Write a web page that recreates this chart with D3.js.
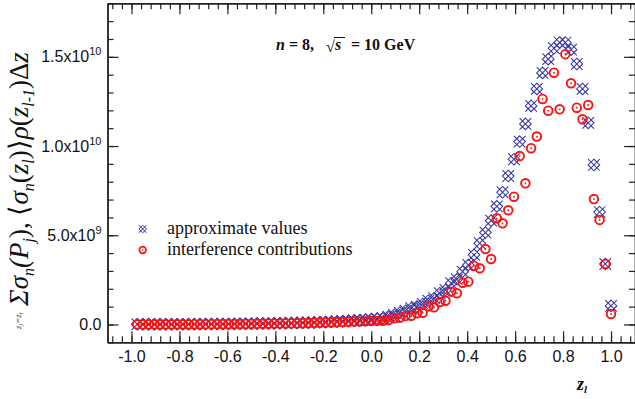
<!DOCTYPE html>
<html><head><meta charset="utf-8">
<script src="https://cdn.jsdelivr.net/npm/d3@7/dist/d3.min.js"></script>
<style>body{margin:0;background:#fff}svg{display:block}</style>
</head><body>
<svg id="chart" width="635" height="399"></svg>
<script>
// z_l grid (l = 1..84)
const zValues = [-0.9762,-0.9524,-0.9286,-0.9048,-0.8810,-0.8571,-0.8333,-0.8095,-0.7857,-0.7619,
 -0.7381,-0.7143,-0.6905,-0.6667,-0.6429,-0.6190,-0.5952,-0.5714,-0.5476,-0.5238,
 -0.5,-0.4762,-0.4524,-0.4286,-0.4048,-0.3810,-0.3571,-0.3333,-0.3095,-0.2857,
 -0.2619,-0.2381,-0.2143,-0.1905,-0.1667,-0.1429,-0.1190,-0.0952,-0.0714,-0.0476,
 -0.0238,0,0.0238,0.0476,0.0714,0.0952,0.1190,0.1429,0.1667,0.1905,
 0.2143,0.2381,0.2619,0.2857,0.3095,0.3333,0.3571,0.3810,0.4048,0.4286,
 0.4524,0.4762,0.5,0.5238,0.5476,0.5714,0.5952,0.6190,0.6429,0.6667,
 0.6905,0.7143,0.7381,0.7619,0.7857,0.8095,0.8333,0.8571,0.8810,0.9048,
 0.9286,0.9524,0.9762,1.0];
// approximate values (units of 1e9)
const approxValues = [0.01,0.01,0.01,0.01,0.01,0.012,0.013,0.014,0.015,0.016,
 0.018,0.02,0.022,0.024,0.026,0.028,0.03,0.033,0.036,0.04,
 0.044,0.048,0.052,0.057,0.062,0.068,0.074,0.08,0.088,0.096,
 0.105,0.115,0.126,0.138,0.15,0.165,0.18,0.2,0.22,0.24,
 0.265,0.29,0.32,0.35,0.44,0.53,0.66,0.77,0.91,1.0,
 1.15,1.33,1.47,1.75,1.93,2.31,2.53,2.96,3.33,3.9,
 4.55,5.15,5.82,6.62,7.41,8.32,9.26,10.25,11.24,12.25,
 13.2,14.1,14.87,15.48,15.8,15.8,15.4,14.6,13.2,11.3,
 8.94,6.3,3.39,1.04];
// interference contributions (units of 1e9)
const interfValues = [0.008,0.008,0.008,0.008,0.008,0.009,0.01,0.011,0.012,0.013,
 0.014,0.015,0.017,0.018,0.02,0.021,0.023,0.025,0.027,0.03,
 0.033,0.036,0.039,0.043,0.047,0.051,0.056,0.06,0.066,0.072,
 0.079,0.086,0.095,0.104,0.113,0.124,0.135,0.15,0.16,0.17,
 0.18,0.19,0.2,0.21,0.25,0.35,0.38,0.48,0.49,0.63,
 0.66,1.0,0.96,1.26,1.33,1.84,1.75,2.34,2.4,3.28,
 3.15,4.23,3.67,5.95,5.67,6.4,7.16,9.44,7.91,9.88,
 10.53,12.64,11.98,14.11,12.06,15.15,13.52,12.15,11.5,12.3,
 7.03,5.86,3.39,0.59];
const xTickValues = [-1.0,-0.8,-0.6,-0.4,-0.2,0.0,0.2,0.4,0.6,0.8,1.0];
const xTickLabels = ["-1.0","-0.8","-0.6","-0.4","-0.2","0.0","0.2","0.4","0.6","0.8","1.0"];
const yTickValues = [0,5,10,15];
const yTickMantissa = ["0.0","5.0x10","1.0x10","1.5x10"];
const yTickExponent = ["","9","10","10"];
const seriesNames = ["approximate values","interference contributions"];

const svg = d3.select("#chart");
svg.append("rect").attr("width",635).attr("height",399).attr("fill","#fff");

const L=107.5, R=635, T=3.3, B=342.3;
const x = d3.scaleLinear().domain([-1.1,1.1]).range([L,R]);
const y = d3.scaleLinear().domain([-1,18]).range([B,T]);

const axisColor = "#222";
const minorX = d3.range(-1.08,1.1,0.04).map(v=>+v.toFixed(2));
const minorY = d3.range(-1,18.01,1);

function styleAxis(g){
  g.selectAll("path.domain").attr("stroke",axisColor).attr("stroke-width",1.4);
  g.selectAll("line").attr("stroke",axisColor).attr("stroke-width",1.2);
}
// bottom
const gb = svg.append("g").attr("transform",`translate(0,${B})`)
  .call(d3.axisBottom(x).tickValues(xTickValues).tickSize(-11).tickSizeOuter(0).tickPadding(8)
    .tickFormat((d,i)=>xTickLabels[i]));
gb.selectAll("text").attr("font-family","'Liberation Sans', Arial, sans-serif").attr("font-size",16).attr("fill","#111");
styleAxis(gb);
const gbm = svg.append("g").attr("transform",`translate(0,${B})`)
  .call(d3.axisBottom(x).tickValues(minorX).tickSize(-6).tickSizeOuter(0).tickFormat(""));
styleAxis(gbm);
// top
const gt = svg.append("g").attr("transform",`translate(0,${T})`)
  .call(d3.axisTop(x).tickValues(xTickValues).tickSize(-11).tickSizeOuter(0).tickFormat(""));
styleAxis(gt);
const gtm = svg.append("g").attr("transform",`translate(0,${T})`)
  .call(d3.axisTop(x).tickValues(minorX).tickSize(-6).tickSizeOuter(0).tickFormat(""));
styleAxis(gtm);
// left
const gl = svg.append("g").attr("transform",`translate(${L},0)`)
  .call(d3.axisLeft(y).tickValues(yTickValues).tickSize(-11).tickSizeOuter(0).tickPadding(6).tickFormat(""));
styleAxis(gl);
const glm = svg.append("g").attr("transform",`translate(${L},0)`)
  .call(d3.axisLeft(y).tickValues(minorY).tickSize(-6).tickSizeOuter(0).tickFormat(""));
styleAxis(glm);
// right
const gr = svg.append("g").attr("transform",`translate(${R},0)`)
  .call(d3.axisRight(y).tickValues(yTickValues).tickSize(-11).tickSizeOuter(0).tickFormat(""));
styleAxis(gr);
const grm = svg.append("g").attr("transform",`translate(${R},0)`)
  .call(d3.axisRight(y).tickValues(minorY).tickSize(-6).tickSizeOuter(0).tickFormat(""));
styleAxis(grm);

// y tick labels with superscripts
yTickValues.forEach((v,i)=>{
  const t = svg.append("text").attr("x",L-6).attr("y",y(v)+5.5)
    .attr("text-anchor","end").attr("font-family","'Liberation Sans', Arial, sans-serif")
    .attr("font-size",16).attr("fill","#111");
  t.append("tspan").text(yTickMantissa[i]);
  if (yTickExponent[i]) t.append("tspan").attr("font-size",11).attr("dy",-7).text(yTickExponent[i]);
});

// markers
const crossPath = s => `M${-s},${-s}L${s},${s}M${-s},${s}L${s},${-s}M0,${-s}L${s},0L0,${s}L${-s},0Z`;
const blue = "#35359f", red = "#ff1010";
const data = zValues.map((z,i)=>({z, a:approxValues[i], b:interfValues[i]}));
svg.append("g").selectAll("path").data(data).join("path")
  .attr("transform",d=>`translate(${x(d.z)},${y(d.a)})`)
  .attr("d",crossPath(5.8)).attr("fill","none").attr("stroke",blue).attr("stroke-width",1.05);
const gc = svg.append("g").selectAll("g").data(data).join("g")
  .attr("transform",d=>`translate(${x(d.z)},${y(d.b)})`);
gc.append("circle").attr("r",4.3).attr("fill","none").attr("stroke",red).attr("stroke-width",1.9);
gc.append("circle").attr("r",0.9).attr("fill",red);

// legend
const lg = svg.append("g");
lg.append("path").attr("transform","translate(142.7,229)").attr("d",crossPath(3.8))
  .attr("fill","none").attr("stroke",blue).attr("stroke-width",1);
lg.append("circle").attr("cx",142.7).attr("cy",250).attr("r",3.3).attr("fill","none").attr("stroke",red).attr("stroke-width",1.7);
lg.append("circle").attr("cx",142.7).attr("cy",250).attr("r",0.8).attr("fill",red);
[229,250].forEach((yy,i)=>{
  lg.append("text").attr("x",167).attr("y",yy+5).attr("font-family","'Liberation Serif', serif")
    .attr("font-size",18).attr("fill","#111").text(seriesNames[i]);
});

// annotation
const ann = svg.append("g").attr("font-family","'Liberation Serif', serif").attr("font-weight","bold").attr("font-size",16).attr("fill","#111");
const a1 = ann.append("text").attr("x",276).attr("y",50);
a1.append("tspan").attr("font-style","italic").text("n");
a1.append("tspan").text(" = 8,");
ann.append("text").attr("x",326).attr("y",52).attr("font-weight","normal").text("\u221A");
ann.append("line").attr("x1",334).attr("x2",345).attr("y1",37.5).attr("y2",37.5).attr("stroke","#111").attr("stroke-width",1);
ann.append("text").attr("x",335).attr("y",50).attr("font-style","italic").text("s");
ann.append("text").attr("x",351).attr("y",50).text("= 10 GeV");

// x axis title
const xt = svg.append("text").attr("x",577).attr("y",390).attr("font-family","'Liberation Serif', serif")
  .attr("font-weight","bold").attr("font-style","italic").attr("font-size",18).attr("fill","#111");
xt.append("tspan").text("z");
xt.append("tspan").attr("font-size",11).attr("dy",3).text("l");

// y axis title (rotated)
const yt = svg.append("text").attr("transform","translate(28,306) rotate(-90)")
  .attr("font-family","'Liberation Serif', serif").attr("font-style","italic").attr("font-size",27).attr("fill","#111");
yt.append("tspan").attr("font-size",28).text("\u03A3");
yt.append("tspan").text("\u03C3");
yt.append("tspan").attr("font-size",16).attr("dy",6).text("n");
yt.append("tspan").attr("dy",-6).text("(P");
yt.append("tspan").attr("font-size",16).attr("dy",6).text("j");
yt.append("tspan").attr("dy",-6).attr("font-style","normal").text("),  \u27E8");
yt.append("tspan").text("\u03C3");
yt.append("tspan").attr("font-size",16).attr("dy",6).text("n");
yt.append("tspan").attr("dy",-6).attr("font-style","normal").text("(");
yt.append("tspan").text("z");
yt.append("tspan").attr("font-size",16).attr("dy",6).text("l");
yt.append("tspan").attr("dy",-6).attr("font-style","normal").text(")\u27E9");
yt.append("tspan").text("\u03C1");
yt.append("tspan").attr("font-style","normal").text("(");
yt.append("tspan").text("z");
yt.append("tspan").attr("font-size",16).attr("dy",6).text("l-1");
yt.append("tspan").attr("dy",-6).attr("font-style","normal").text(")\u0394");
yt.append("tspan").text("z");
// sum limits
const ys = svg.append("text").attr("transform","translate(21,329) rotate(-90)")
  .attr("font-family","'Liberation Serif', serif").attr("font-style","italic").attr("font-size",9).attr("fill","#111");
ys.append("tspan").text("z");
ys.append("tspan").attr("font-size",6).attr("dy",2).text("j");
ys.append("tspan").attr("dy",-2).text("=z");
ys.append("tspan").attr("font-size",6).attr("dy",2).text("l");
</script>
</body></html>
